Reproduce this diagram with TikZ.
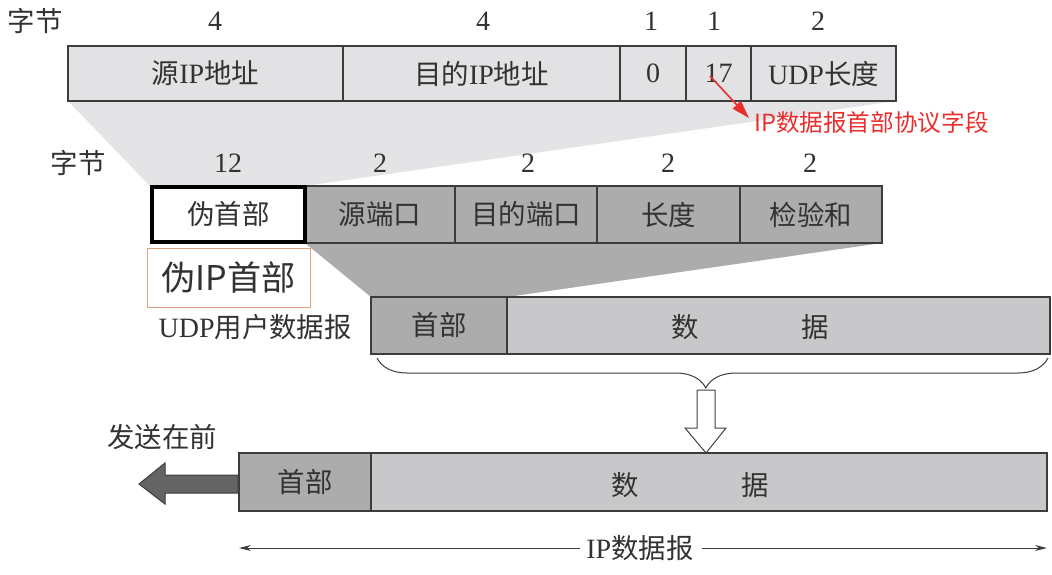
\documentclass[tikz,border=0pt]{standalone}
\usepackage{fontspec}
\setmainfont{Liberation Serif}
\newfontfamily\cjkfont[Scale=0.98]{Noto Sans CJK SC}
\usetikzlibrary{arrows.meta,decorations.pathreplacing}
\newcommand{\zh}[1]{{\cjkfont #1}}
\definecolor{txt}{RGB}{50,50,50}
\definecolor{lightf}{RGB}{226,226,228}
\definecolor{midf}{RGB}{172,172,172}
\definecolor{dataf}{RGB}{200,200,202}
\definecolor{edge}{RGB}{60,60,60}
\definecolor{wedgeA}{RGB}{228,228,230}
\definecolor{wedgeB}{RGB}{172,172,172}
\definecolor{redann}{RGB}{235,45,45}
\definecolor{orangeedge}{RGB}{225,160,130}
\definecolor{arrowf}{RGB}{100,100,100}
\begin{document}
\begin{tikzpicture}[x=1pt,y=-1pt,
  field/.style={draw=edge, line width=1.2pt, inner sep=0pt, text=txt, font=\fontsize{28}{30}\selectfont},
  lab/.style={text=txt, font=\fontsize{28}{30}\selectfont, inner sep=0pt},
  ann/.style={text=redann, font=\cjkfont\fontsize{24.1}{27}\selectfont, inner sep=0pt},
]
\useasboundingbox (0,0) rectangle (1052,574);
% shaded wedges
\fill[wedgeA] (68,101) -- (150,186) -- (305,186) -- (896,101) -- cycle;
\fill[wedgeB] (305,243) -- (371,297) -- (507,297) -- (882,243) -- cycle;

% top row
\node[lab] (zj1) at (35,21) {\zh{字节}};
\node[lab] (n1) at (215,21) {4};
\node[lab] (n2) at (483,21) {4};
\node[lab] (n3) at (651,21) {1};
\node[lab] (n4) at (714,21) {1};
\node[lab] (n5) at (818,21) {2};
\node[field, fill=lightf, minimum width=275pt, minimum height=55pt] (sip) at (205.5,73.5) {\zh{源}IP\zh{地址}};
\node[field, fill=lightf, minimum width=277pt, minimum height=55pt] (dip) at (481.5,73.5) {\zh{目的}IP\zh{地址}};
\node[field, fill=lightf, minimum width=66pt, minimum height=55pt] (zero) at (653,73.5) {0};
\node[field, fill=lightf, minimum width=65pt, minimum height=55pt] (proto) at (718.5,73.5) {17};
\node[field, fill=lightf, minimum width=145pt, minimum height=55pt] (ulen) at (823.5,73.5) {UDP\zh{长度}};

% annotation
\coordinate (ra) at (710,76);
\node[ann, anchor=west] (annot) at (754,123) {IP数据报首部协议字段};
\draw[redann, line width=1.6pt, -{Triangle[length=18pt,width=11pt]}] (ra) -- (749,118);

% second row
\node[lab] (zj2) at (78,163) {\zh{字节}};
\node[lab] (m1) at (228,163) {12};
\node[lab] (m2) at (380,163) {2};
\node[lab] (m3) at (528,163) {2};
\node[lab] (m4) at (668,163) {2};
\node[lab] (m5) at (810,163) {2};
\node[field, fill=midf, minimum width=150pt, minimum height=57pt] (sport) at (380,214.5) {\zh{源端口}};
\node[field, fill=midf, minimum width=142pt, minimum height=57pt] (dport) at (526,214.5) {\zh{目的端口}};
\node[field, fill=midf, minimum width=143pt, minimum height=57pt] (len) at (668.5,214.5) {\zh{长度}};
\node[field, fill=midf, minimum width=142pt, minimum height=57pt] (csum) at (811,214.5) {\zh{检验和}};
\node[field, draw=black, line width=3.5pt, fill=white, minimum width=153pt, minimum height=55pt] (pseudo) at (228.5,214.5) {\zh{伪首部}};

\node[draw=orangeedge, line width=0.8pt, fill=white, inner sep=0pt, minimum width=163pt, minimum height=59pt,
      text=txt, font=\cjkfont\fontsize{34.8}{37}\selectfont] (plabel) at (228.5,277.5) {伪IP首部};

% UDP datagram
\node[lab, anchor=east] (udplab) at (352,327) {UDP\zh{用户数据报}};
\node[field, fill=midf, minimum width=136pt, minimum height=57pt] (uhdr) at (439,325.5) {\zh{首部}};
\node[field, fill=dataf, minimum width=543pt, minimum height=57pt] (udata) at (778.5,325.5) {};
\node[lab] (ud1) at (685,327) {\zh{数}};
\node[lab] (ud2) at (815,327) {\zh{据}};

% brace
\draw[edge, line width=1pt, decorate, decoration={brace, amplitude=30pt, aspect=0.51}] (1048,358) -- (377,358);

% hollow arrow
\draw[black!75, line width=1pt, fill=white] (697,390) -- (715,390) -- (715,428) -- (726,428) -- (706,453) -- (685,428) -- (697,428) -- cycle;

% IP datagram
\node[lab] (send) at (162,437) {\zh{发送在前}};
\node[field, fill=midf, minimum width=132pt, minimum height=58pt] (ihdr) at (305,482) {\zh{首部}};
\node[field, fill=dataf, minimum width=676pt, minimum height=58pt] (idata) at (709,482) {};
\node[lab] (id1) at (625,485) {\zh{数}};
\node[lab] (id2) at (755,485) {\zh{据}};

% thick left arrow
\draw[edge, line width=1pt, fill=arrowf] (238,475) -- (165,475) -- (165,463) -- (139,484) -- (165,504) -- (165,493) -- (238,493) -- cycle;

% IP datagram dimension
\node[lab] (iplab) at (640,548) {IP\zh{数据报}};
\coordinate (dl) at (239,548);
\coordinate (dr) at (1047,548);
\draw[edge, line width=1pt, -{Stealth[length=12pt,width=6pt]}] ([xshift=-6pt]iplab.west) -- (dl);
\draw[edge, line width=1pt, -{Stealth[length=12pt,width=6pt]}] ([xshift=8pt]iplab.east) -- (dr);
\end{tikzpicture}
\end{document}
